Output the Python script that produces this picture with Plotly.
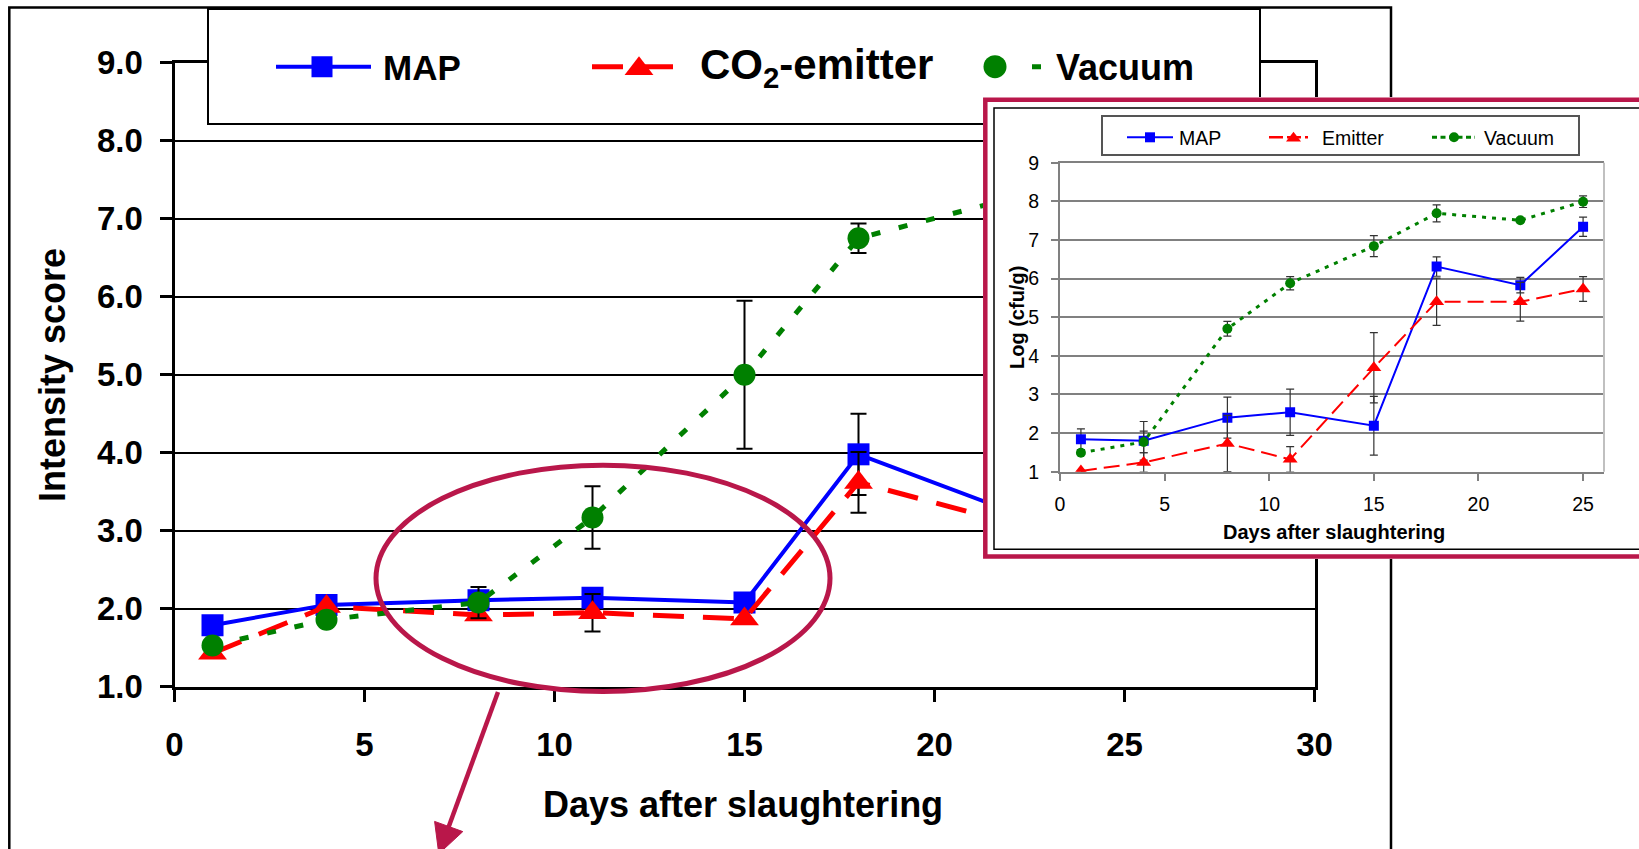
import plotly.graph_objects as go

# ---------------- data ----------------
days = [1, 4, 8, 11, 15, 18, 22, 25]

# main chart: Intensity score
map_score = [1.79, 2.05, 2.11, 2.14, 2.08, 3.98, 3.25, 3.50]
map_score_err = [None, None, None, None, None, 0.52, None, None]
emitter_score = [1.43, 2.03, 1.92, 1.95, 1.87, 3.62, 3.10, 3.30]
emitter_score_err = [None, None, None, 0.24, None, 0.39, None, None]
vacuum_score = [1.53, 1.86, 2.08, 3.17, 5.00, 6.75, 7.26, 7.60]
vacuum_score_err = [None, None, 0.20, 0.40, 0.95, 0.19, None, None]

# inset chart: Log (cfu/g)
map_log = [1.84, 1.80, 2.40, 2.54, 2.19, 6.31, 5.83, 7.34]
map_log_err = [0.27, 0.50, 0.53, 0.60, 0.76, 0.25, 0.20, 0.25]
emitter_log = [1.02, 1.24, 1.73, 1.32, 3.69, 5.40, 5.40, 5.73]
emitter_log_err = [None, 0.25, 0.73, 0.33, 0.91, 0.61, 0.50, 0.32]
vacuum_log = [1.49, 1.77, 4.70, 5.88, 6.84, 7.69, 7.51, 7.99]
vacuum_log_err = [None, 0.28, 0.19, 0.17, 0.27, 0.22, None, 0.15]

main_series = ["MAP", "CO<sub>2</sub>-emitter", "Vacuum"]
inset_series = ["MAP", "Emitter", "Vacuum"]
main_x_title = "Days after slaughtering"
main_y_title = "Intensity score"
inset_x_title = "Days after slaughtering"
inset_y_title = "Log (cfu/g)"

# ---------------- style ----------------
W, H = 1639, 849
FONT = "Liberation Sans, Arial, sans-serif"
BLUE, RED, GREEN = "#0000FF", "#FF0000", "#008000"
CRIMSON = "#B9174A"


def px(x):
    return x / W


def py(y):
    return 1 - y / H


fig = go.Figure()


def err(vals, width, thick, color):
    return dict(type="data", array=vals, visible=True, width=width,
                thickness=thick, color=color)


# ---- main chart traces (xy) ----
fig.add_trace(go.Scatter(
    x=days, y=map_score, mode="lines+markers", xaxis="x", yaxis="y",
    line=dict(color=BLUE, width=4),
    marker=dict(symbol="square", size=22, color=BLUE),
    error_y=err(map_score_err, 8, 2, "black"), showlegend=False))
fig.add_trace(go.Scatter(
    x=days, y=emitter_score, mode="lines+markers", xaxis="x", yaxis="y",
    line=dict(color=RED, width=5, dash="31px,19px"),
    marker=dict(symbol="triangle-up", size=25, color=RED),
    error_y=err(emitter_score_err, 8, 2, "black"), showlegend=False))
fig.add_trace(go.Scatter(
    x=days, y=vacuum_score, mode="lines+markers", xaxis="x", yaxis="y",
    line=dict(color=GREEN, width=5, dash="9px,19px"),
    marker=dict(symbol="circle", size=22, color=GREEN),
    error_y=err(vacuum_score_err, 8, 2, "black"), showlegend=False))

# ---- main legend box (x2y2, pixel coordinates) ----
LY = 66.7
fig.add_trace(go.Scatter(x=[276, 371], y=[LY, LY], mode="lines", xaxis="x2", yaxis="y2",
                         line=dict(color=BLUE, width=4), showlegend=False, hoverinfo="skip"))
fig.add_trace(go.Scatter(x=[322], y=[LY], mode="markers", xaxis="x2", yaxis="y2",
                         marker=dict(symbol="square", size=21, color=BLUE), showlegend=False, hoverinfo="skip"))
fig.add_trace(go.Scatter(x=[592, 673], y=[LY, LY], mode="lines", xaxis="x2", yaxis="y2",
                         line=dict(color=RED, width=5, dash="31px,19px"), showlegend=False, hoverinfo="skip"))
fig.add_trace(go.Scatter(x=[639], y=[LY + 2], mode="markers", xaxis="x2", yaxis="y2",
                         marker=dict(symbol="triangle-up", size=25, color=RED), showlegend=False, hoverinfo="skip"))
fig.add_trace(go.Scatter(x=[995, 1041], y=[LY, LY], mode="lines", xaxis="x2", yaxis="y2",
                         line=dict(color=GREEN, width=5, dash="0px,37px,9px,100px"), showlegend=False, hoverinfo="skip"))
fig.add_trace(go.Scatter(x=[995], y=[LY], mode="markers", xaxis="x2", yaxis="y2",
                         marker=dict(symbol="circle", size=23, color=GREEN), showlegend=False, hoverinfo="skip"))

# ---- inset cover (x3y3) ----
fig.add_trace(go.Scatter(x=[], y=[], xaxis="x3", yaxis="y3", showlegend=False))

# ---- inset chart traces (x4y4) ----
fig.add_trace(go.Scatter(
    x=days, y=map_log, mode="lines+markers", xaxis="x4", yaxis="y4",
    line=dict(color=BLUE, width=2),
    marker=dict(symbol="square", size=10, color=BLUE),
    error_y=err(map_log_err, 4, 1.2, "#333333"), showlegend=False))
fig.add_trace(go.Scatter(
    x=days, y=emitter_log, mode="lines+markers", xaxis="x4", yaxis="y4",
    line=dict(color=RED, width=2, dash="16px,7px"),
    marker=dict(symbol="triangle-up", size=13, color=RED),
    error_y=err(emitter_log_err, 4, 1.2, "#333333"), showlegend=False))
fig.add_trace(go.Scatter(
    x=days, y=vacuum_log, mode="lines+markers", xaxis="x4", yaxis="y4",
    line=dict(color=GREEN, width=3, dash="4px,6px"),
    marker=dict(symbol="circle", size=10, color=GREEN),
    error_y=err(vacuum_log_err, 4, 1.2, "#333333"), showlegend=False))

# ---- inset legend (x5y5, pixel coordinates) ----
IY = 137.3
fig.add_trace(go.Scatter(x=[1127, 1173], y=[IY, IY], mode="lines", xaxis="x5", yaxis="y5",
                         line=dict(color=BLUE, width=2), showlegend=False, hoverinfo="skip"))
fig.add_trace(go.Scatter(x=[1150], y=[IY], mode="markers", xaxis="x5", yaxis="y5",
                         marker=dict(symbol="square", size=10, color=BLUE), showlegend=False, hoverinfo="skip"))
fig.add_trace(go.Scatter(x=[1269, 1308], y=[IY, IY], mode="lines", xaxis="x5", yaxis="y5",
                         line=dict(color=RED, width=2.5, dash="14px,4px"), showlegend=False, hoverinfo="skip"))
fig.add_trace(go.Scatter(x=[1293.5], y=[IY + 1], mode="markers", xaxis="x5", yaxis="y5",
                         marker=dict(symbol="triangle-up", size=13, color=RED), showlegend=False, hoverinfo="skip"))
fig.add_trace(go.Scatter(x=[1432, 1475], y=[IY, IY], mode="lines", xaxis="x5", yaxis="y5",
                         line=dict(color=GREEN, width=3, dash="5px,3.5px"), showlegend=False, hoverinfo="skip"))
fig.add_trace(go.Scatter(x=[1454], y=[IY], mode="markers", xaxis="x5", yaxis="y5",
                         marker=dict(symbol="circle", size=10, color=GREEN), showlegend=False, hoverinfo="skip"))

hidden = dict(showgrid=False, zeroline=False, showticklabels=False, ticks="", automargin=False)

fig.update_layout(
    template="none",
    width=W, height=H, autosize=False,
    margin=dict(l=0, r=0, t=0, b=0, pad=0, autoexpand=False),
    paper_bgcolor="white", plot_bgcolor="white",
    font=dict(family=FONT, color="black"),
    xaxis=dict(domain=[px(174.5), px(1314.5)], anchor="y", range=[0, 30], dtick=5, tick0=0,
               showgrid=False, zeroline=False, showline=True, linecolor="black", linewidth=3,
               mirror=True, ticks="outside", ticklen=12, tickwidth=3, tickcolor="black",
               ticklabelstandoff=15, automargin=False,
               tickfont=dict(family=FONT, size=33, weight="bold", color="black")),
    yaxis=dict(domain=[py(686.8), py(62.7)], anchor="x", range=[1, 9], dtick=1, tick0=1,
               tickformat=".1f", showgrid=True, gridcolor="black", gridwidth=2, zeroline=False,
               showline=True, linecolor="black", linewidth=3, mirror=True,
               ticks="outside", ticklen=12, tickwidth=3, tickcolor="black",
               ticklabelstandoff=10, automargin=False,
               tickfont=dict(family=FONT, size=33, weight="bold", color="black")),
    xaxis2=dict(domain=[px(209), px(1259)], anchor="y2", range=[209, 1259],
                showline=True, mirror=True, linecolor="black", linewidth=2, **hidden),
    yaxis2=dict(domain=[py(123), py(9.5)], anchor="x2", range=[123, 9.5],
                showline=True, mirror=True, linecolor="black", linewidth=2, **hidden),
    xaxis3=dict(domain=[px(983), 1.0], anchor="y3", range=[0, 1], showline=False, **hidden),
    yaxis3=dict(domain=[py(559), py(97)], anchor="x3", range=[0, 1], showline=False, **hidden),
    xaxis4=dict(domain=[px(1060), px(1604)], anchor="y4", range=[0, 26], dtick=5, tick0=0,
                showgrid=False, zeroline=False, showline=True, linecolor="#808080", linewidth=2,
                mirror=True, ticks="outside", ticklen=7, tickwidth=2, tickcolor="#808080",
                ticklabelstandoff=7, automargin=False,
                tickfont=dict(family=FONT, size=19.5, color="black")),
    yaxis4=dict(domain=[py(471.7), py(162.7)], anchor="x4", range=[1, 9], dtick=1, tick0=1,
                showgrid=True, gridcolor="#808080", gridwidth=2, zeroline=False,
                showline=True, linecolor="#808080", linewidth=2,
                ticks="outside", ticklen=7, tickwidth=2, tickcolor="#808080",
                ticklabelstandoff=8, automargin=False,
                tickfont=dict(family=FONT, size=19.5, color="black")),
    xaxis5=dict(domain=[px(1103), px(1578)], anchor="y5", range=[1103, 1578],
                showline=True, mirror=True, linecolor="#555555", linewidth=2, **hidden),
    yaxis5=dict(domain=[py(154), py(117)], anchor="x5", range=[154, 117],
                showline=True, mirror=True, linecolor="#555555", linewidth=2, **hidden),
)

# ---------------- shapes ----------------
tail = (498.0, 692.0)
tip = (438.8, 853.8)
head_base = (448.7, 826.5)
head_l = (434.6, 821.4)
head_r = (462.8, 831.6)
head_path = "M {:.5f},{:.5f} L {:.5f},{:.5f} L {:.5f},{:.5f} Z".format(
    px(tip[0]), py(tip[1]), px(head_l[0]), py(head_l[1]), px(head_r[0]), py(head_r[1]))

shapes = [
    # outer frame
    dict(type="rect", xref="paper", yref="paper", x0=px(9.3), x1=px(1391),
         y0=py(880), y1=py(7.5), line=dict(color="black", width=2.5), layer="below"),
    # inset frames
    dict(type="rect", xref="paper", yref="paper", x0=px(985.3), x1=px(1680),
         y0=py(556.6), y1=py(99.7), line=dict(color=CRIMSON, width=4.5), layer="above"),
    dict(type="rect", xref="paper", yref="paper", x0=px(994), x1=px(1700),
         y0=py(549.3), y1=py(108), line=dict(color="black", width=1.5), layer="above"),
    # inset plot right border
    dict(type="line", xref="paper", yref="paper", x0=px(1604), x1=px(1604),
         y0=py(471.7), y1=py(162.7), line=dict(color="#C0C0C0", width=2), layer="above"),
    # highlight ellipse
    dict(type="circle", xref="paper", yref="paper", x0=px(376), x1=px(830),
         y0=py(691.5), y1=py(465.2), line=dict(color=CRIMSON, width=5), layer="above"),
    # arrow shaft and head
    dict(type="line", xref="paper", yref="paper", x0=px(tail[0]), y0=py(tail[1]),
         x1=px(head_base[0] - 1), y1=py(head_base[1] + 3), line=dict(color=CRIMSON, width=4.5),
         layer="above"),
    dict(type="path", xref="paper", yref="paper", path=head_path, fillcolor=CRIMSON,
         line=dict(color=CRIMSON, width=1), layer="above"),
]
fig.update_layout(shapes=shapes)

# ---------------- annotations ----------------
ann = []
bold = dict(family=FONT, color="black", weight="bold")
ann.append(dict(text=main_y_title, x=px(52), y=py(375), xref="paper", yref="paper",
                textangle=-90, showarrow=False, xanchor="center", yanchor="middle",
                font=dict(size=36, **bold)))
ann.append(dict(text=main_x_title, x=px(742.5), y=py(804), xref="paper", yref="paper",
                showarrow=False, xanchor="center", yanchor="middle",
                font=dict(size=36, **bold)))
# main legend texts
ann.append(dict(text=main_series[0], x=px(381), y=py(67.2), xref="paper", yref="paper",
                showarrow=False, xanchor="left", yanchor="middle", font=dict(size=35, **bold)))
ann.append(dict(text=main_series[1], x=px(698), y=py(67.5), xref="paper", yref="paper",
                showarrow=False, xanchor="left", yanchor="middle", font=dict(size=42, **bold)))
ann.append(dict(text=main_series[2], x=px(1054), y=py(67.2), xref="paper", yref="paper",
                showarrow=False, xanchor="left", yanchor="middle", font=dict(size=36, **bold)))
# inset titles
ann.append(dict(text=inset_x_title, x=px(1334), y=py(531.7), xref="paper", yref="paper",
                showarrow=False, xanchor="center", yanchor="middle", font=dict(size=20, **bold)))
ann.append(dict(text=inset_y_title, x=px(1017), y=py(318), xref="paper", yref="paper",
                textangle=-90, showarrow=False, xanchor="center", yanchor="middle",
                font=dict(size=20, **bold)))
# inset legend texts
for name, xl in zip(inset_series, [1177, 1320, 1482]):
    ann.append(dict(text=name, x=px(xl), y=py(138), xref="paper", yref="paper",
                    showarrow=False, xanchor="left", yanchor="middle",
                    font=dict(family=FONT, size=19.5, color="black")))
fig.update_layout(annotations=ann)

fig.write_html("out.html", config={"displayModeBar": False},
               post_script="document.body.style.margin='0';document.body.style.overflow='hidden';")
